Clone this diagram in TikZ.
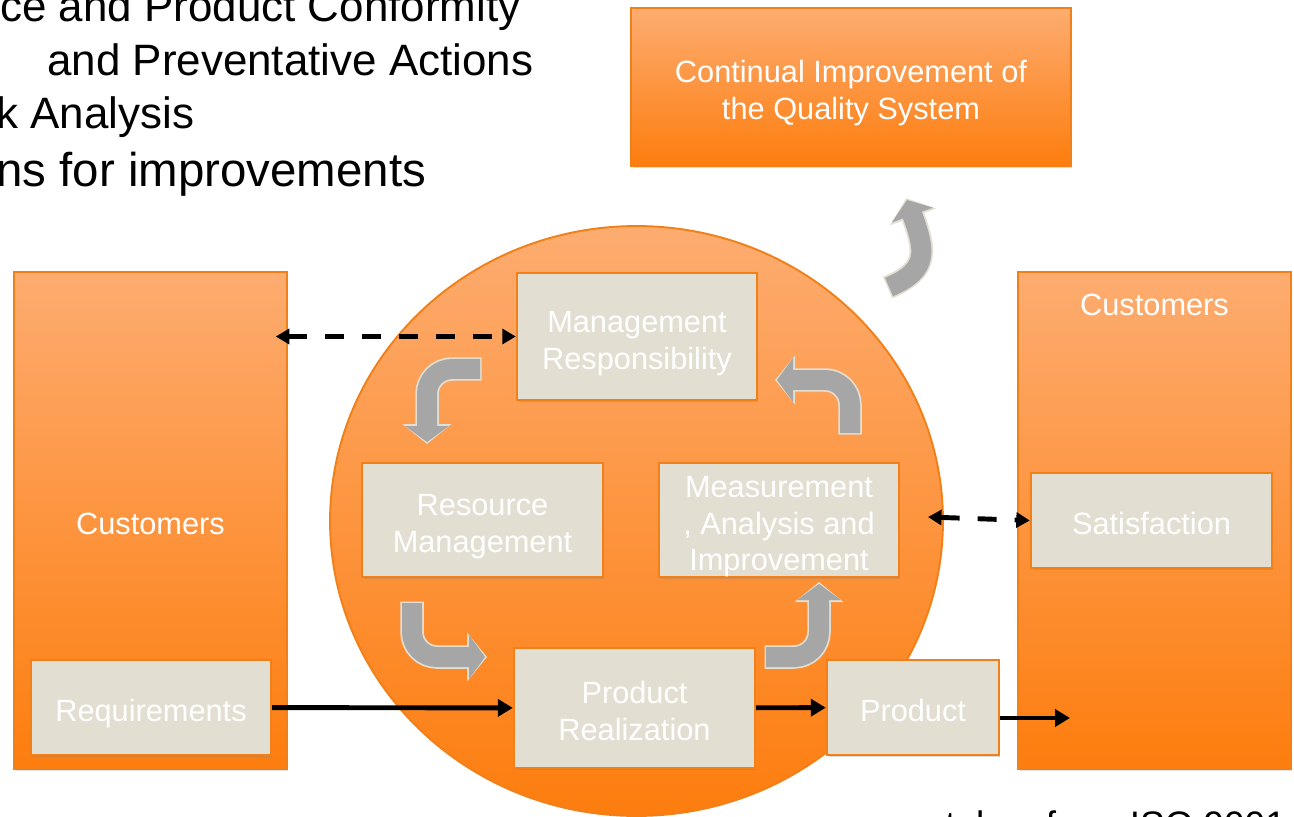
\documentclass[tikz,border=0pt]{standalone}
\usepackage{fontspec}
\setmainfont{Liberation Sans}
\usetikzlibrary{arrows.meta,shapes.geometric,shadows}

\definecolor{peach}{RGB}{253,172,112}
\definecolor{deeporange}{RGB}{253,125,14}
\definecolor{edgeorange}{RGB}{241,128,24}
\definecolor{parchment}{RGB}{227,222,210}
\definecolor{cyclegray}{RGB}{166,166,166}

\newcommand{\boxfont}{\fontsize{17.5}{21}\selectfont}
\newcommand{\textlift}{\rule{0pt}{16pt}}

\tikzstyle{customer column}=[draw=edgeorange,line width=0.9pt,
    top color=peach,bottom color=deeporange,minimum width=5.46cm,
    minimum height=9.94cm,inner sep=0pt,text=white,font=\boxfont,
    text depth=0pt,
    drop shadow={opacity=0.25,shadow xshift=0.03cm,shadow yshift=-0.05cm}]
\tikzstyle{process box}=[draw=edgeorange,line width=1.4pt,fill=parchment,
    minimum width=4.8cm,minimum height=1.9cm,inner sep=0pt,align=center,
    text=white,font=\boxfont,text depth=0pt,
    drop shadow={opacity=0.3,shadow xshift=0.03cm,shadow yshift=-0.05cm}]
\tikzstyle{quality circle}=[ellipse,draw=edgeorange,line width=1.1pt,
    top color=peach,bottom color=deeporange,minimum width=12.26cm,
    minimum height=11.8cm,inner sep=0pt]
\tikzstyle{feedback}=[line width=2.8pt,dash pattern=on 0.38cm off 0.36cm,
    {Triangle[length=0.27cm,width=0.3cm]}-{Triangle[length=0.27cm,width=0.3cm]}]
\tikzstyle{flow}=[line width=2.8pt,-{Triangle[length=0.3cm,width=0.34cm]}]
\tikzstyle{cycle outline}=[draw=parchment,line width=0.47cm,rounded corners=0.5cm,
    shorten >=-0.04cm,shorten <=-0.03cm,-{Triangle[length=0.4cm,width=0.96cm]}]
\tikzstyle{cycle body}=[draw=cyclegray,line width=0.4cm,rounded corners=0.5cm,
    -{Triangle[length=0.32cm,width=0.86cm]}]
\tikzstyle{slide text}=[font=\fontsize{25}{30}\selectfont,anchor=base west,
    inner sep=0pt]

\newcommand{\process}[4][]{
    \node[process box,#1] at (#2) (#3) {\textlift#4};
}
\newcommand{\cyclearrow}[2][]{
    \draw[cycle outline,#1] #2;
    \draw[cycle body,#1] #2;
}

\begin{document}
\begin{tikzpicture}[x=0.02cm,y=-0.02cm]
    \useasboundingbox (0,0) rectangle (1294,817);
    %
    \node[slide text] (pt1) at (0,22) {ce and Product Conformity};
    \node[slide text] (pt2) at (47,76) {and Preventative Actions};
    \node[slide text] (pt3) at (-4,129) {k Analysis};
    \node[slide text,font=\fontsize{27}{32}\selectfont] (pt4) at (-4,187)
        {ns for improvements};
    \node[slide text,font=\fontsize{21}{25}\selectfont] (src) at (945,837)
        {taken from ISO 9001};
    %
    \node[customer column] (custL) at (150.5,520.5) {\textlift Customers};
    \node[customer column,label={[anchor=center,yshift=-0.68cm,text=white,
        font=\boxfont]north:Customers}] (custR) at (1154.5,520.5) {};
    \node[quality circle] (qms) at (636.5,521) {};
    \node[customer column,minimum width=8.8cm,minimum height=3.16cm,
        align=center] (cip) at (851,87)
        {\textlift Continual Improvement of\\the Quality System};
    %
    \process{151,707.5}{req}{Requirements}
    \process[minimum width=4.82cm]{1151.5,520.5}{sat}{Satisfaction}
    \process[minimum height=2.54cm]{637,336.5}{mgmt}{Management\\Responsibility}
    \process[minimum width=4.82cm,minimum height=2.28cm]{482.5,520}{res}{Resource\\Management}
    \process[minimum height=2.28cm]{779,520}{meas}{Measurement\\, Analysis and\\Improvement}
    \process[minimum width=4.82cm,minimum height=2.4cm]{634.5,708}{preal}{Product\\Realization}
    \process[minimum width=3.44cm]{913,707.5}{prod}{Product}
    %
    \cyclearrow{(480,369) -- (427,369) -- (427,442)}
    \cyclearrow{(850,433) -- (850,380) -- (777,380)}
    \cyclearrow{(412,603) -- (412,657) -- (485,657)}
    \cyclearrow{(766,657) -- (819,657) -- (819,584)}
    \cyclearrow{(889,287) .. controls (930,270) and (925,250) .. (907,200)}
    %
    \coordinate (measTip) at (928,517);
    \coordinate (outTip) at (1070,718);
    \draw[feedback] ([xshift=-0.24cm]mgmt.west -| custL.east) -- (mgmt.west);
    \draw[feedback] (measTip) -- (sat.west);
    \draw[flow] (req) -- (preal);
    \draw[flow] (preal) -- (prod);
    \draw[flow] (prod.east |- outTip) -- (outTip);
\end{tikzpicture}
\end{document}
